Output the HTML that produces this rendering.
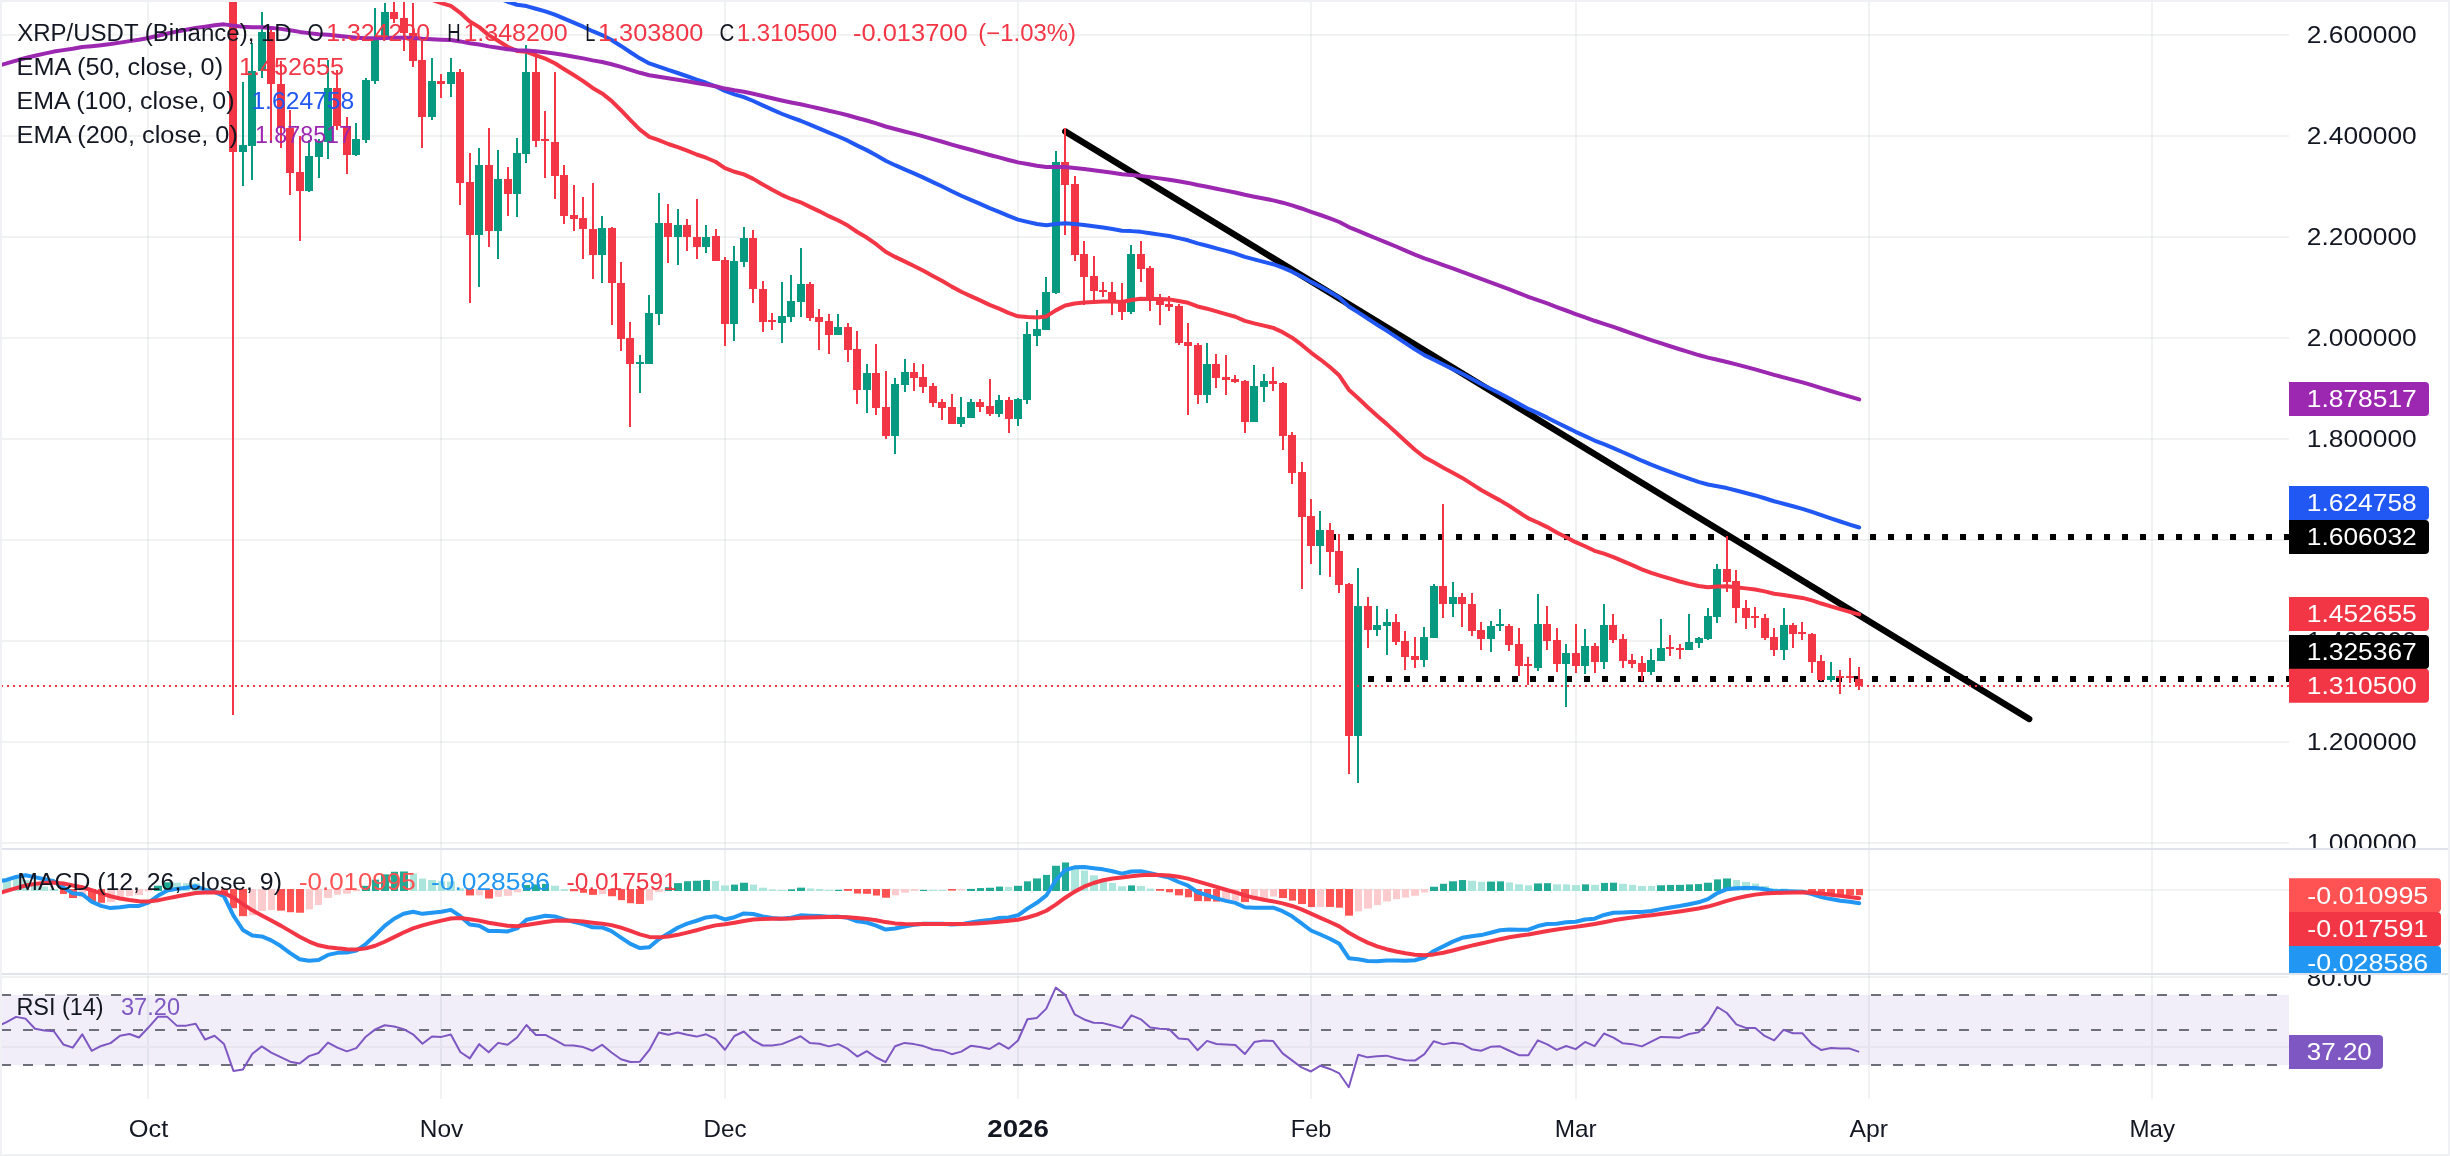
<!DOCTYPE html><html><head><meta charset="utf-8"><title>XRP/USDT</title><style>html,body{margin:0;padding:0;background:#fff;width:2450px;height:1156px;overflow:hidden}</style></head><body><svg width="2450" height="1156" viewBox="0 0 2450 1156" style="display:block;position:absolute;left:0;top:0">
<defs><clipPath id="cm"><rect x="0" y="0" width="2289" height="848"/></clipPath><clipPath id="cd"><rect x="0" y="850" width="2289" height="123"/></clipPath><clipPath id="cr"><rect x="0" y="975" width="2289" height="125"/></clipPath><clipPath id="am"><rect x="2289" y="0" width="200" height="848"/></clipPath><clipPath id="ad"><rect x="2289" y="850" width="200" height="123"/></clipPath><clipPath id="ar"><rect x="2289" y="975" width="200" height="125"/></clipPath></defs>
<rect width="2450" height="1156" fill="#fff"/>
<rect x="0" y="995" width="2289" height="70" fill="#f1eef9"/>
<rect x="147" y="0" width="2" height="1099" fill="rgba(36,56,56,0.062)"/>
<rect x="440" y="0" width="2" height="1099" fill="rgba(36,56,56,0.062)"/>
<rect x="724" y="0" width="2" height="1099" fill="rgba(36,56,56,0.062)"/>
<rect x="1017" y="0" width="2" height="1099" fill="rgba(36,56,56,0.062)"/>
<rect x="1310" y="0" width="2" height="1099" fill="rgba(36,56,56,0.062)"/>
<rect x="1575" y="0" width="2" height="1099" fill="rgba(36,56,56,0.062)"/>
<rect x="1868" y="0" width="2" height="1099" fill="rgba(36,56,56,0.062)"/>
<rect x="2151" y="0" width="2" height="1099" fill="rgba(36,56,56,0.062)"/>
<g clip-path="url(#cm)"><rect x="0" y="34" width="2289" height="2" fill="rgba(36,56,56,0.062)"/><rect x="0" y="135" width="2289" height="2" fill="rgba(36,56,56,0.062)"/><rect x="0" y="236" width="2289" height="2" fill="rgba(36,56,56,0.062)"/><rect x="0" y="337" width="2289" height="2" fill="rgba(36,56,56,0.062)"/><rect x="0" y="438" width="2289" height="2" fill="rgba(36,56,56,0.062)"/><rect x="0" y="539" width="2289" height="2" fill="rgba(36,56,56,0.062)"/><rect x="0" y="640" width="2289" height="2" fill="rgba(36,56,56,0.062)"/><rect x="0" y="741" width="2289" height="2" fill="rgba(36,56,56,0.062)"/><rect x="0" y="842" width="2289" height="2" fill="rgba(36,56,56,0.062)"/><rect x="0" y="943" width="2289" height="2" fill="rgba(36,56,56,0.062)"/></g>
<rect x="0" y="889" width="2289" height="2" fill="rgba(36,56,56,0.062)"/>
<rect x="0" y="976" width="2289" height="2" fill="rgba(36,56,56,0.062)"/>
<rect x="0" y="1046" width="2289" height="2" fill="#e8e5ef"/>
<rect x="0" y="848" width="2450" height="2" fill="#e0e3eb"/>
<rect x="0" y="973" width="2450" height="2" fill="#e0e3eb"/>
<g clip-path="url(#cm)">
<line x1="1330" y1="537" x2="2289" y2="537" stroke="#000" stroke-width="6" stroke-dasharray="6 12"/>
<line x1="1368" y1="679" x2="2289" y2="679" stroke="#000" stroke-width="6" stroke-dasharray="6 12"/>
<line x1="1065.3" y1="131.4" x2="2029.2" y2="719" stroke="#000" stroke-width="6.4" stroke-linecap="round"/>
<g fill="#089981"><rect x="239" y="145" width="8" height="7"/><rect x="242" y="82" width="2" height="104"/><rect x="248" y="71" width="8" height="75"/><rect x="251" y="43" width="2" height="137"/><rect x="258" y="32" width="8" height="39"/><rect x="261" y="12" width="2" height="66"/><rect x="305" y="156" width="8" height="35"/><rect x="308" y="140" width="2" height="52"/><rect x="315" y="141" width="8" height="16"/><rect x="318" y="139" width="2" height="39"/><rect x="324" y="88" width="8" height="54"/><rect x="327" y="60" width="2" height="99"/><rect x="352" y="139" width="8" height="16"/><rect x="355" y="123" width="2" height="33"/><rect x="362" y="80" width="8" height="60"/><rect x="365" y="78" width="2" height="65"/><rect x="371" y="38" width="8" height="43"/><rect x="374" y="8" width="2" height="76"/><rect x="381" y="12" width="8" height="26"/><rect x="384" y="3" width="2" height="35"/><rect x="428" y="81" width="8" height="36"/><rect x="431" y="58" width="2" height="62"/><rect x="447" y="72" width="8" height="12"/><rect x="450" y="58" width="2" height="39"/><rect x="475" y="165" width="8" height="70"/><rect x="478" y="148" width="2" height="139"/><rect x="494" y="179" width="8" height="52"/><rect x="497" y="150" width="2" height="109"/><rect x="513" y="153" width="8" height="41"/><rect x="516" y="138" width="2" height="79"/><rect x="522" y="72" width="8" height="82"/><rect x="525" y="45" width="2" height="118"/><rect x="598" y="228" width="8" height="27"/><rect x="601" y="216" width="2" height="67"/><rect x="636" y="362" width="8" height="2"/><rect x="639" y="355" width="2" height="38"/><rect x="645" y="313" width="8" height="51"/><rect x="648" y="295" width="2" height="69"/><rect x="655" y="223" width="8" height="91"/><rect x="658" y="193" width="2" height="132"/><rect x="674" y="225" width="8" height="12"/><rect x="677" y="209" width="2" height="56"/><rect x="702" y="237" width="8" height="10"/><rect x="705" y="225" width="2" height="28"/><rect x="730" y="261" width="8" height="63"/><rect x="733" y="246" width="2" height="95"/><rect x="740" y="238" width="8" height="24"/><rect x="743" y="227" width="2" height="40"/><rect x="778" y="316" width="8" height="7"/><rect x="781" y="282" width="2" height="61"/><rect x="787" y="301" width="8" height="16"/><rect x="790" y="275" width="2" height="47"/><rect x="797" y="284" width="8" height="18"/><rect x="800" y="248" width="2" height="69"/><rect x="834" y="327" width="8" height="8"/><rect x="837" y="314" width="2" height="21"/><rect x="863" y="373" width="8" height="17"/><rect x="866" y="364" width="2" height="49"/><rect x="891" y="384" width="8" height="52"/><rect x="894" y="378" width="2" height="76"/><rect x="901" y="372" width="8" height="13"/><rect x="904" y="359" width="2" height="33"/><rect x="957" y="417" width="8" height="7"/><rect x="960" y="397" width="2" height="30"/><rect x="967" y="402" width="8" height="16"/><rect x="970" y="399" width="2" height="19"/><rect x="995" y="400" width="8" height="14"/><rect x="998" y="395" width="2" height="22"/><rect x="1014" y="399" width="8" height="20"/><rect x="1017" y="398" width="2" height="28"/><rect x="1023" y="334" width="8" height="66"/><rect x="1026" y="322" width="2" height="82"/><rect x="1033" y="329" width="8" height="7"/><rect x="1036" y="310" width="2" height="36"/><rect x="1042" y="292" width="8" height="38"/><rect x="1045" y="277" width="2" height="53"/><rect x="1052" y="162" width="8" height="131"/><rect x="1055" y="151" width="2" height="143"/><rect x="1127" y="254" width="8" height="58"/><rect x="1130" y="245" width="2" height="69"/><rect x="1203" y="364" width="8" height="31"/><rect x="1206" y="343" width="2" height="60"/><rect x="1250" y="386" width="8" height="36"/><rect x="1253" y="365" width="2" height="57"/><rect x="1260" y="381" width="8" height="6"/><rect x="1263" y="374" width="2" height="28"/><rect x="1316" y="530" width="8" height="16"/><rect x="1319" y="511" width="2" height="64"/><rect x="1354" y="606" width="8" height="130"/><rect x="1357" y="568" width="2" height="215"/><rect x="1373" y="625" width="8" height="5"/><rect x="1376" y="606" width="2" height="30"/><rect x="1383" y="622" width="8" height="4"/><rect x="1386" y="609" width="2" height="46"/><rect x="1420" y="637" width="8" height="23"/><rect x="1423" y="627" width="2" height="40"/><rect x="1430" y="586" width="8" height="52"/><rect x="1433" y="584" width="2" height="54"/><rect x="1449" y="597" width="8" height="7"/><rect x="1452" y="582" width="2" height="35"/><rect x="1487" y="626" width="8" height="13"/><rect x="1490" y="621" width="2" height="31"/><rect x="1496" y="624" width="8" height="2"/><rect x="1499" y="609" width="2" height="22"/><rect x="1534" y="624" width="8" height="44"/><rect x="1537" y="594" width="2" height="77"/><rect x="1562" y="653" width="8" height="11"/><rect x="1565" y="644" width="2" height="63"/><rect x="1581" y="646" width="8" height="20"/><rect x="1584" y="629" width="2" height="45"/><rect x="1600" y="625" width="8" height="37"/><rect x="1603" y="604" width="2" height="65"/><rect x="1647" y="660" width="8" height="12"/><rect x="1650" y="649" width="2" height="26"/><rect x="1657" y="648" width="8" height="13"/><rect x="1660" y="619" width="2" height="42"/><rect x="1685" y="642" width="8" height="8"/><rect x="1688" y="614" width="2" height="36"/><rect x="1695" y="638" width="8" height="5"/><rect x="1698" y="637" width="2" height="11"/><rect x="1704" y="616" width="8" height="23"/><rect x="1707" y="608" width="2" height="32"/><rect x="1713" y="569" width="8" height="48"/><rect x="1716" y="564" width="2" height="59"/><rect x="1780" y="625" width="8" height="25"/><rect x="1783" y="608" width="2" height="52"/><rect x="1827" y="676" width="8" height="4"/><rect x="1830" y="662" width="2" height="20"/></g>
<g fill="#f23645"><rect x="229" y="-20" width="8" height="172"/><rect x="232" y="-20" width="2" height="735"/><rect x="267" y="32" width="8" height="52"/><rect x="270" y="30" width="2" height="112"/><rect x="277" y="84" width="8" height="44"/><rect x="280" y="61" width="2" height="87"/><rect x="286" y="128" width="8" height="45"/><rect x="289" y="110" width="2" height="85"/><rect x="296" y="172" width="8" height="19"/><rect x="299" y="136" width="2" height="105"/><rect x="333" y="88" width="8" height="38"/><rect x="336" y="70" width="2" height="60"/><rect x="343" y="126" width="8" height="29"/><rect x="346" y="117" width="2" height="57"/><rect x="390" y="12" width="8" height="7"/><rect x="393" y="-5" width="2" height="28"/><rect x="400" y="18" width="8" height="15"/><rect x="403" y="-5" width="2" height="56"/><rect x="409" y="33" width="8" height="28"/><rect x="412" y="3" width="2" height="64"/><rect x="418" y="60" width="8" height="57"/><rect x="421" y="39" width="2" height="109"/><rect x="437" y="81" width="8" height="3"/><rect x="440" y="74" width="2" height="24"/><rect x="456" y="72" width="8" height="111"/><rect x="459" y="69" width="2" height="136"/><rect x="466" y="182" width="8" height="53"/><rect x="469" y="153" width="2" height="150"/><rect x="485" y="165" width="8" height="66"/><rect x="488" y="128" width="2" height="119"/><rect x="504" y="179" width="8" height="15"/><rect x="507" y="167" width="2" height="49"/><rect x="532" y="72" width="8" height="69"/><rect x="535" y="50" width="2" height="97"/><rect x="541" y="139" width="8" height="2"/><rect x="544" y="111" width="2" height="67"/><rect x="551" y="142" width="8" height="34"/><rect x="554" y="72" width="2" height="127"/><rect x="560" y="175" width="8" height="41"/><rect x="563" y="165" width="2" height="59"/><rect x="570" y="215" width="8" height="4"/><rect x="573" y="185" width="2" height="46"/><rect x="579" y="218" width="8" height="11"/><rect x="582" y="197" width="2" height="62"/><rect x="589" y="229" width="8" height="26"/><rect x="592" y="183" width="2" height="96"/><rect x="608" y="228" width="8" height="55"/><rect x="611" y="227" width="2" height="98"/><rect x="617" y="283" width="8" height="56"/><rect x="620" y="262" width="2" height="89"/><rect x="626" y="338" width="8" height="26"/><rect x="629" y="322" width="2" height="105"/><rect x="664" y="223" width="8" height="14"/><rect x="667" y="204" width="2" height="59"/><rect x="683" y="225" width="8" height="12"/><rect x="686" y="219" width="2" height="32"/><rect x="693" y="237" width="8" height="10"/><rect x="696" y="199" width="2" height="60"/><rect x="712" y="236" width="8" height="25"/><rect x="715" y="229" width="2" height="32"/><rect x="721" y="260" width="8" height="64"/><rect x="724" y="257" width="2" height="89"/><rect x="749" y="238" width="8" height="51"/><rect x="752" y="230" width="2" height="73"/><rect x="759" y="289" width="8" height="33"/><rect x="762" y="281" width="2" height="51"/><rect x="768" y="320" width="8" height="2"/><rect x="771" y="313" width="2" height="17"/><rect x="806" y="284" width="8" height="34"/><rect x="809" y="282" width="2" height="39"/><rect x="815" y="317" width="8" height="5"/><rect x="818" y="309" width="2" height="41"/><rect x="825" y="321" width="8" height="14"/><rect x="828" y="314" width="2" height="40"/><rect x="844" y="327" width="8" height="23"/><rect x="847" y="323" width="2" height="39"/><rect x="853" y="349" width="8" height="41"/><rect x="856" y="331" width="2" height="73"/><rect x="872" y="373" width="8" height="35"/><rect x="875" y="344" width="2" height="71"/><rect x="882" y="407" width="8" height="29"/><rect x="885" y="371" width="2" height="68"/><rect x="910" y="372" width="8" height="6"/><rect x="913" y="363" width="2" height="28"/><rect x="919" y="377" width="8" height="10"/><rect x="922" y="364" width="2" height="29"/><rect x="929" y="386" width="8" height="17"/><rect x="932" y="383" width="2" height="24"/><rect x="938" y="402" width="8" height="6"/><rect x="941" y="399" width="2" height="21"/><rect x="948" y="407" width="8" height="17"/><rect x="951" y="394" width="2" height="30"/><rect x="976" y="402" width="8" height="5"/><rect x="979" y="399" width="2" height="13"/><rect x="986" y="406" width="8" height="8"/><rect x="989" y="379" width="2" height="37"/><rect x="1005" y="400" width="8" height="19"/><rect x="1008" y="397" width="2" height="36"/><rect x="1061" y="162" width="8" height="23"/><rect x="1064" y="128" width="2" height="107"/><rect x="1071" y="184" width="8" height="71"/><rect x="1074" y="176" width="2" height="85"/><rect x="1080" y="254" width="8" height="23"/><rect x="1083" y="241" width="2" height="64"/><rect x="1090" y="276" width="8" height="15"/><rect x="1093" y="256" width="2" height="44"/><rect x="1099" y="290" width="8" height="2"/><rect x="1102" y="282" width="2" height="15"/><rect x="1108" y="292" width="8" height="10"/><rect x="1111" y="282" width="2" height="33"/><rect x="1118" y="300" width="8" height="12"/><rect x="1121" y="283" width="2" height="37"/><rect x="1137" y="254" width="8" height="15"/><rect x="1140" y="241" width="2" height="41"/><rect x="1146" y="268" width="8" height="32"/><rect x="1149" y="266" width="2" height="45"/><rect x="1156" y="299" width="8" height="6"/><rect x="1159" y="294" width="2" height="31"/><rect x="1165" y="304" width="8" height="3"/><rect x="1168" y="296" width="2" height="15"/><rect x="1175" y="306" width="8" height="37"/><rect x="1178" y="304" width="2" height="41"/><rect x="1184" y="342" width="8" height="4"/><rect x="1187" y="323" width="2" height="92"/><rect x="1194" y="345" width="8" height="50"/><rect x="1197" y="343" width="2" height="61"/><rect x="1212" y="364" width="8" height="14"/><rect x="1215" y="354" width="2" height="34"/><rect x="1222" y="377" width="8" height="3"/><rect x="1225" y="355" width="2" height="40"/><rect x="1231" y="379" width="8" height="3"/><rect x="1234" y="375" width="2" height="8"/><rect x="1241" y="381" width="8" height="41"/><rect x="1244" y="380" width="2" height="53"/><rect x="1269" y="381" width="8" height="3"/><rect x="1272" y="367" width="2" height="24"/><rect x="1279" y="383" width="8" height="53"/><rect x="1282" y="382" width="2" height="68"/><rect x="1288" y="435" width="8" height="38"/><rect x="1291" y="432" width="2" height="52"/><rect x="1298" y="472" width="8" height="45"/><rect x="1301" y="462" width="2" height="127"/><rect x="1307" y="516" width="8" height="30"/><rect x="1310" y="499" width="2" height="65"/><rect x="1326" y="530" width="8" height="22"/><rect x="1329" y="523" width="2" height="54"/><rect x="1335" y="551" width="8" height="34"/><rect x="1338" y="534" width="2" height="59"/><rect x="1345" y="584" width="8" height="152"/><rect x="1348" y="583" width="2" height="191"/><rect x="1364" y="606" width="8" height="24"/><rect x="1367" y="597" width="2" height="51"/><rect x="1392" y="622" width="8" height="20"/><rect x="1395" y="614" width="2" height="31"/><rect x="1401" y="641" width="8" height="16"/><rect x="1404" y="631" width="2" height="39"/><rect x="1411" y="656" width="8" height="4"/><rect x="1414" y="637" width="2" height="31"/><rect x="1439" y="586" width="8" height="18"/><rect x="1442" y="504" width="2" height="114"/><rect x="1458" y="597" width="8" height="7"/><rect x="1461" y="593" width="2" height="34"/><rect x="1468" y="604" width="8" height="27"/><rect x="1471" y="593" width="2" height="43"/><rect x="1477" y="630" width="8" height="9"/><rect x="1480" y="622" width="2" height="28"/><rect x="1505" y="626" width="8" height="19"/><rect x="1508" y="624" width="2" height="27"/><rect x="1515" y="644" width="8" height="22"/><rect x="1518" y="628" width="2" height="48"/><rect x="1524" y="664" width="8" height="2"/><rect x="1527" y="657" width="2" height="28"/><rect x="1543" y="624" width="8" height="17"/><rect x="1546" y="606" width="2" height="44"/><rect x="1553" y="640" width="8" height="24"/><rect x="1556" y="628" width="2" height="44"/><rect x="1572" y="653" width="8" height="13"/><rect x="1575" y="624" width="2" height="49"/><rect x="1591" y="646" width="8" height="16"/><rect x="1594" y="643" width="2" height="30"/><rect x="1609" y="625" width="8" height="15"/><rect x="1612" y="614" width="2" height="29"/><rect x="1619" y="639" width="8" height="22"/><rect x="1622" y="634" width="2" height="34"/><rect x="1628" y="660" width="8" height="4"/><rect x="1631" y="654" width="2" height="14"/><rect x="1638" y="663" width="8" height="9"/><rect x="1641" y="656" width="2" height="25"/><rect x="1666" y="647" width="8" height="2"/><rect x="1669" y="635" width="2" height="21"/><rect x="1676" y="648" width="8" height="2"/><rect x="1679" y="644" width="2" height="15"/><rect x="1723" y="569" width="8" height="13"/><rect x="1726" y="536" width="2" height="56"/><rect x="1732" y="581" width="8" height="27"/><rect x="1735" y="570" width="2" height="53"/><rect x="1742" y="608" width="8" height="10"/><rect x="1745" y="600" width="2" height="29"/><rect x="1751" y="616" width="8" height="2"/><rect x="1754" y="607" width="2" height="21"/><rect x="1761" y="618" width="8" height="20"/><rect x="1764" y="614" width="2" height="26"/><rect x="1770" y="637" width="8" height="13"/><rect x="1773" y="628" width="2" height="28"/><rect x="1789" y="625" width="8" height="9"/><rect x="1792" y="623" width="2" height="25"/><rect x="1798" y="632" width="8" height="2"/><rect x="1801" y="622" width="2" height="18"/><rect x="1808" y="634" width="8" height="28"/><rect x="1811" y="633" width="2" height="40"/><rect x="1817" y="661" width="8" height="19"/><rect x="1820" y="655" width="2" height="26"/><rect x="1836" y="676" width="8" height="2"/><rect x="1839" y="670" width="2" height="24"/><rect x="1846" y="676" width="8" height="2"/><rect x="1849" y="658" width="2" height="25"/><rect x="1855" y="679" width="8" height="7"/><rect x="1858" y="667" width="2" height="23"/></g>
<path d="M-2.85 -146.84 L6.6 -148.41 L16.05 -150.98 L25.51 -153.19 L34.96 -153.68 L44.41 -153.86 L53.86 -153.92 L63.31 -151.61 L72.77 -148.74 L82.22 -147.99 L91.67 -143.62 L101.12 -140.24 L110.57 -137.45 L120.03 -136.02 L129.48 -134.95 L138.93 -133.26 L148.38 -133.35 L157.83 -135.61 L167.29 -137.79 L176.74 -138.45 L186.19 -139.09 L195.64 -140.04 L205.09 -138.24 L214.55 -137.11 L224 -134.41 L233.45 -123.19 L242.9 -112.66 L252.35 -105.44 L261.81 -100.05 L271.26 -92.82 L280.71 -84.18 L290.16 -74.11 L299.61 -63.71 L309.07 -55.09 L318.52 -47.39 L327.97 -42.08 L337.42 -35.5 L346.87 -28.03 L356.33 -21.47 L365.78 -17.48 L375.23 -15.32 L384.68 -14.24 L394.13 -12.95 L403.59 -11.16 L413.04 -8.33 L422.49 -3.42 L431.94 -0.1 L441.39 3.19 L450.85 5.9 L460.3 12.83 L469.75 21.53 L479.2 27.15 L488.65 35.13 L498.11 40.77 L507.56 46.77 L517.01 50.93 L526.46 51.77 L535.91 55.27 L545.37 58.63 L554.82 63.21 L564.27 69.21 L573.72 75.06 L583.17 81.12 L592.63 87.95 L602.08 93.44 L611.53 100.89 L620.98 110.22 L630.43 120.15 L639.89 129.64 L649.34 136.83 L658.79 140.21 L668.24 143.99 L677.69 147.16 L687.15 150.7 L696.6 154.49 L706.05 157.73 L715.5 161.76 L724.95 168.11 L734.41 171.75 L743.86 174.35 L753.31 178.86 L762.76 184.46 L772.21 189.85 L781.67 194.8 L791.12 198.97 L800.57 202.3 L810.02 206.84 L819.47 211.34 L828.93 216.17 L838.38 220.52 L847.83 225.58 L857.28 232.01 L866.73 237.54 L876.19 244.21 L885.64 251.72 L895.09 256.9 L904.54 261.42 L913.99 265.97 L923.45 270.7 L932.9 275.88 L942.35 281.04 L951.8 286.63 L961.25 291.74 L970.71 296.07 L980.16 300.4 L989.61 304.84 L999.06 308.57 L1008.51 312.89 L1017.97 316.27 L1027.42 316.96 L1036.87 317.43 L1046.32 316.44 L1055.77 310.38 L1065.23 305.45 L1074.68 303.46 L1084.13 302.41 L1093.58 301.96 L1103.03 301.57 L1112.49 301.57 L1121.94 301.96 L1131.39 300.08 L1140.84 298.85 L1150.29 298.88 L1159.75 299.1 L1169.2 299.4 L1178.65 301.09 L1188.1 302.84 L1197.55 306.43 L1207.01 308.69 L1216.46 311.39 L1225.91 314.07 L1235.36 316.73 L1244.81 320.84 L1254.27 323.4 L1263.72 325.66 L1273.17 327.93 L1282.62 332.15 L1292.07 337.66 L1301.53 344.68 L1310.98 352.56 L1320.43 359.52 L1329.88 367.05 L1339.33 375.58 L1348.79 389.71 L1358.24 398.19 L1367.69 407.26 L1377.14 415.8 L1386.59 423.89 L1396.05 432.43 L1405.5 441.22 L1414.95 449.78 L1424.4 457.12 L1433.85 462.18 L1443.31 467.72 L1452.76 472.79 L1462.21 477.92 L1471.66 483.91 L1481.11 489.98 L1490.57 495.31 L1500.02 500.37 L1509.47 506.03 L1518.92 512.29 L1528.37 518.31 L1537.83 522.46 L1547.28 527.09 L1556.73 532.45 L1566.18 537.17 L1575.63 542.21 L1585.09 546.28 L1594.54 550.8 L1603.99 553.71 L1613.44 557.08 L1622.89 561.14 L1632.35 565.16 L1641.8 569.33 L1651.25 572.89 L1660.7 575.83 L1670.15 578.7 L1679.61 581.5 L1689.06 583.87 L1698.51 586.01 L1707.96 587.19 L1717.41 586.48 L1726.87 586.3 L1736.32 587.17 L1745.77 588.36 L1755.22 589.52 L1764.67 591.41 L1774.13 593.7 L1783.58 594.93 L1793.03 596.45 L1802.48 597.91 L1811.93 600.42 L1821.39 603.53 L1830.84 606.36 L1840.29 609.16 L1849.74 611.84 L1859.19 614.41" fill="none" stroke="#f23645" stroke-width="4" stroke-linejoin="round" stroke-linecap="round"/>
<path d="M-2.85 -77.22 L6.6 -79.39 L16.05 -82.06 L25.51 -84.53 L34.96 -86.14 L44.41 -87.57 L53.86 -88.91 L63.31 -89.04 L72.77 -88.82 L82.22 -89.63 L91.67 -88.58 L101.12 -87.96 L110.57 -87.59 L120.03 -87.85 L129.48 -88.27 L138.93 -88.34 L148.38 -89.28 L157.83 -91.29 L167.29 -93.27 L176.74 -94.48 L186.19 -95.68 L195.64 -97.01 L205.09 -96.96 L214.55 -97.21 L224 -96.63 L233.45 -91.71 L242.9 -87.02 L252.35 -83.89 L261.81 -81.59 L271.26 -78.3 L280.71 -74.23 L290.16 -69.34 L299.61 -64.18 L309.07 -59.82 L318.52 -55.84 L327.97 -52.99 L337.42 -49.45 L346.87 -45.4 L356.33 -41.75 L365.78 -39.33 L375.23 -37.81 L384.68 -36.82 L394.13 -35.72 L403.59 -34.36 L413.04 -32.48 L422.49 -29.52 L431.94 -27.33 L441.39 -25.13 L450.85 -23.19 L460.3 -19.12 L469.75 -14.1 L479.2 -10.55 L488.65 -5.77 L498.11 -2.12 L507.56 1.76 L517.01 4.76 L526.46 6.09 L535.91 8.77 L545.37 11.38 L554.82 14.63 L564.27 18.62 L573.72 22.58 L583.17 26.68 L592.63 31.2 L602.08 35.1 L611.53 40.02 L620.98 45.93 L630.43 52.22 L639.89 58.36 L649.34 63.4 L658.79 66.56 L668.24 69.93 L677.69 73 L687.15 76.25 L696.6 79.64 L706.05 82.76 L715.5 86.28 L724.95 90.98 L734.41 94.34 L743.86 97.19 L753.31 101 L762.76 105.36 L772.21 109.65 L781.67 113.74 L791.12 117.45 L800.57 120.75 L810.02 124.65 L819.47 128.55 L828.93 132.63 L838.38 136.48 L847.83 140.7 L857.28 145.63 L866.73 150.13 L876.19 155.23 L885.64 160.78 L895.09 165.2 L904.54 169.3 L913.99 173.42 L923.45 177.64 L932.9 182.1 L942.35 186.56 L951.8 191.26 L961.25 195.73 L970.71 199.81 L980.16 203.91 L989.61 208.06 L999.06 211.86 L1008.51 215.95 L1017.97 219.58 L1027.42 221.84 L1036.87 223.97 L1046.32 225.31 L1055.77 224.06 L1065.23 223.28 L1074.68 223.9 L1084.13 224.95 L1093.58 226.25 L1103.03 227.56 L1112.49 229.02 L1121.94 230.66 L1131.39 231.12 L1140.84 231.86 L1150.29 233.2 L1159.75 234.62 L1169.2 236.04 L1178.65 238.15 L1188.1 240.28 L1197.55 243.34 L1207.01 245.73 L1216.46 248.34 L1225.91 250.94 L1235.36 253.53 L1244.81 256.86 L1254.27 259.42 L1263.72 261.82 L1273.17 264.24 L1282.62 267.63 L1292.07 271.69 L1301.53 276.54 L1310.98 281.87 L1320.43 286.78 L1329.88 292.02 L1339.33 297.82 L1348.79 306.49 L1358.24 312.42 L1367.69 318.7 L1377.14 324.77 L1386.59 330.65 L1396.05 336.81 L1405.5 343.14 L1414.95 349.41 L1424.4 355.1 L1433.85 359.68 L1443.31 364.51 L1452.76 369.11 L1462.21 373.75 L1471.66 378.84 L1481.11 383.98 L1490.57 388.78 L1500.02 393.44 L1509.47 398.41 L1518.92 403.71 L1528.37 408.9 L1537.83 413.16 L1547.28 417.66 L1556.73 422.53 L1566.18 427.1 L1575.63 431.82 L1585.09 436.06 L1594.54 440.53 L1603.99 444.18 L1613.44 448.05 L1622.89 452.26 L1632.35 456.44 L1641.8 460.7 L1651.25 464.65 L1660.7 468.28 L1670.15 471.86 L1679.61 475.39 L1689.06 478.69 L1698.51 481.85 L1707.96 484.51 L1717.41 486.18 L1726.87 488.08 L1736.32 490.46 L1745.77 492.98 L1755.22 495.45 L1764.67 498.27 L1774.13 501.27 L1783.58 503.72 L1793.03 506.29 L1802.48 508.82 L1811.93 511.85 L1821.39 515.18 L1830.84 518.35 L1840.29 521.51 L1849.74 524.6 L1859.19 527.5" fill="none" stroke="#2157f3" stroke-width="4" stroke-linejoin="round" stroke-linecap="round"/>
<path d="M-2.85 65.96 L6.6 63.44 L16.05 60.68 L25.51 58.02 L34.96 55.79 L44.41 53.66 L53.86 51.58 L63.31 50.12 L72.77 48.84 L82.22 47.07 L91.67 46.23 L101.12 45.2 L110.57 44.07 L120.03 42.62 L129.48 41.12 L138.93 39.79 L148.38 38.05 L157.83 35.77 L167.29 33.51 L176.74 31.64 L186.19 29.78 L195.64 27.86 L205.09 26.65 L214.55 25.29 L224 24.36 L233.45 25.63 L242.9 26.82 L252.35 27.26 L261.81 27.31 L271.26 27.88 L280.71 28.87 L290.16 30.3 L299.61 31.9 L309.07 33.14 L318.52 34.21 L327.97 34.75 L337.42 35.65 L346.87 36.84 L356.33 37.86 L365.78 38.28 L375.23 38.27 L384.68 38.02 L394.13 37.82 L403.59 37.77 L413.04 38 L422.49 38.79 L431.94 39.21 L441.39 39.65 L450.85 39.98 L460.3 41.4 L469.75 43.32 L479.2 44.53 L488.65 46.38 L498.11 47.7 L507.56 49.15 L517.01 50.19 L526.46 50.41 L535.91 51.31 L545.37 52.2 L554.82 53.43 L564.27 55.05 L573.72 56.67 L583.17 58.39 L592.63 60.35 L602.08 62.02 L611.53 64.22 L620.98 66.95 L630.43 69.9 L639.89 72.81 L649.34 75.2 L658.79 76.67 L668.24 78.26 L677.69 79.72 L687.15 81.29 L696.6 82.94 L706.05 84.48 L715.5 86.23 L724.95 88.59 L734.41 90.31 L743.86 91.78 L753.31 93.74 L762.76 96.01 L772.21 98.26 L781.67 100.43 L791.12 102.42 L800.57 104.23 L810.02 106.36 L819.47 108.5 L828.93 110.75 L838.38 112.9 L847.83 115.25 L857.28 117.98 L866.73 120.52 L876.19 123.38 L885.64 126.48 L895.09 129.05 L904.54 131.46 L913.99 133.91 L923.45 136.43 L932.9 139.08 L942.35 141.75 L951.8 144.55 L961.25 147.26 L970.71 149.8 L980.16 152.35 L989.61 154.95 L999.06 157.39 L1008.51 159.99 L1017.97 162.37 L1027.42 164.08 L1036.87 165.72 L1046.32 166.97 L1055.77 166.93 L1065.23 167.1 L1074.68 167.97 L1084.13 169.06 L1093.58 170.27 L1103.03 171.48 L1112.49 172.77 L1121.94 174.15 L1131.39 174.95 L1140.84 175.88 L1150.29 177.11 L1159.75 178.38 L1169.2 179.66 L1178.65 181.28 L1188.1 182.91 L1197.55 185.02 L1207.01 186.8 L1216.46 188.7 L1225.91 190.6 L1235.36 192.5 L1244.81 194.78 L1254.27 196.68 L1263.72 198.52 L1273.17 200.36 L1282.62 202.7 L1292.07 205.39 L1301.53 208.48 L1310.98 211.84 L1320.43 215 L1329.88 218.35 L1339.33 222 L1348.79 227.11 L1358.24 230.88 L1367.69 234.85 L1377.14 238.73 L1386.59 242.54 L1396.05 246.51 L1405.5 250.59 L1414.95 254.66 L1424.4 258.47 L1433.85 261.73 L1443.31 265.13 L1452.76 268.43 L1462.21 271.77 L1471.66 275.34 L1481.11 278.95 L1490.57 282.4 L1500.02 285.81 L1509.47 289.38 L1518.92 293.12 L1528.37 296.83 L1537.83 300.09 L1547.28 303.47 L1556.73 307.06 L1566.18 310.5 L1575.63 314.03 L1585.09 317.34 L1594.54 320.76 L1603.99 323.79 L1613.44 326.93 L1622.89 330.25 L1632.35 333.57 L1641.8 336.93 L1651.25 340.15 L1660.7 343.21 L1670.15 346.25 L1679.61 349.27 L1689.06 352.19 L1698.51 355.04 L1707.96 357.63 L1717.41 359.74 L1726.87 361.95 L1736.32 364.4 L1745.77 366.92 L1755.22 369.42 L1764.67 372.09 L1774.13 374.85 L1783.58 377.34 L1793.03 379.89 L1802.48 382.42 L1811.93 385.2 L1821.39 388.13 L1830.84 390.99 L1840.29 393.84 L1849.74 396.66 L1859.19 399.35" fill="none" stroke="#9c27b0" stroke-width="4" stroke-linejoin="round" stroke-linecap="round"/>
<line x1="-5" y1="686" x2="2289" y2="686" stroke="#f23645" stroke-width="2" stroke-dasharray="2 4"/>
</g>
<g clip-path="url(#cd)">
<g fill="#22ab94"><rect x="154" y="885.71" width="8" height="5.29"/><rect x="164" y="882.31" width="7" height="8.69"/><rect x="362" y="885.85" width="8" height="5.15"/><rect x="372" y="879.67" width="7" height="11.33"/><rect x="381" y="874.37" width="8" height="16.63"/><rect x="391" y="871.77" width="7" height="19.23"/><rect x="400" y="871.5" width="8" height="19.5"/><rect x="523" y="885.03" width="7" height="5.97"/><rect x="532" y="884.36" width="8" height="6.64"/><rect x="542" y="883.94" width="7" height="7.06"/><rect x="665" y="887.15" width="7" height="3.85"/><rect x="674" y="883.1" width="8" height="7.9"/><rect x="684" y="881.24" width="7" height="9.76"/><rect x="693" y="880.73" width="8" height="10.27"/><rect x="703" y="879.95" width="7" height="11.05"/><rect x="731" y="884.61" width="7" height="6.39"/><rect x="740" y="882.73" width="8" height="8.27"/><rect x="788" y="889.34" width="7" height="1.66"/><rect x="797" y="887.66" width="8" height="3.34"/><rect x="835" y="889.83" width="7" height="1.17"/><rect x="920" y="889.87" width="7" height="1.13"/><rect x="967" y="888.89" width="8" height="2.11"/><rect x="977" y="888.06" width="7" height="2.94"/><rect x="986" y="887.75" width="8" height="3.25"/><rect x="996" y="886.61" width="7" height="4.39"/><rect x="1014" y="885.79" width="8" height="5.21"/><rect x="1024" y="881.32" width="7" height="9.68"/><rect x="1033" y="878.44" width="8" height="12.56"/><rect x="1043" y="874.89" width="7" height="16.11"/><rect x="1052" y="865.76" width="8" height="25.24"/><rect x="1062" y="862.49" width="7" height="28.51"/><rect x="1128" y="885.41" width="7" height="5.59"/><rect x="1430" y="886.75" width="8" height="4.25"/><rect x="1440" y="883.77" width="7" height="7.23"/><rect x="1449" y="881.28" width="8" height="9.72"/><rect x="1459" y="880.03" width="7" height="10.97"/><rect x="1487" y="881.56" width="8" height="9.44"/><rect x="1497" y="881.34" width="7" height="9.66"/><rect x="1534" y="883.42" width="8" height="7.58"/><rect x="1544" y="883.16" width="7" height="7.84"/><rect x="1582" y="884.37" width="7" height="6.63"/><rect x="1601" y="882.91" width="7" height="8.09"/><rect x="1610" y="882.67" width="7" height="8.33"/><rect x="1657" y="885.27" width="8" height="5.73"/><rect x="1667" y="884.93" width="7" height="6.07"/><rect x="1676" y="884.85" width="8" height="6.15"/><rect x="1686" y="884.42" width="7" height="6.58"/><rect x="1695" y="884.07" width="7" height="6.93"/><rect x="1704" y="882.71" width="8" height="8.29"/><rect x="1714" y="879.39" width="7" height="11.61"/><rect x="1723" y="878.48" width="8" height="12.52"/></g>
<g fill="#ace5dc"><rect x="-6" y="877.89" width="7" height="13.11"/><rect x="3" y="879.22" width="8" height="11.78"/><rect x="13" y="879.04" width="7" height="11.96"/><rect x="22" y="879.93" width="7" height="11.07"/><rect x="31" y="883.47" width="8" height="7.53"/><rect x="41" y="886.53" width="7" height="4.47"/><rect x="50" y="888.88" width="8" height="2.12"/><rect x="173" y="882.62" width="8" height="8.38"/><rect x="183" y="883.15" width="7" height="7.85"/><rect x="192" y="883.32" width="8" height="7.68"/><rect x="202" y="887.75" width="7" height="3.25"/><rect x="211" y="889.77" width="8" height="1.23"/><rect x="410" y="873.55" width="7" height="17.45"/><rect x="419" y="878.6" width="7" height="12.4"/><rect x="428" y="879.99" width="8" height="11.01"/><rect x="438" y="881.25" width="7" height="9.75"/><rect x="447" y="881.57" width="8" height="9.43"/><rect x="457" y="888.34" width="7" height="2.66"/><rect x="551" y="885.72" width="8" height="5.28"/><rect x="561" y="889.14" width="7" height="1.86"/><rect x="712" y="881.02" width="7" height="9.98"/><rect x="721" y="885.49" width="8" height="5.51"/><rect x="750" y="884.63" width="7" height="6.37"/><rect x="759" y="887.71" width="8" height="3.29"/><rect x="769" y="889.53" width="7" height="1.47"/><rect x="778" y="890" width="8" height="1"/><rect x="807" y="888.46" width="7" height="2.54"/><rect x="816" y="889.01" width="7" height="1.99"/><rect x="825" y="889.93" width="8" height="1.07"/><rect x="929" y="889.91" width="8" height="1.09"/><rect x="939" y="889.92" width="7" height="1.08"/><rect x="1005" y="886.87" width="7" height="4.13"/><rect x="1071" y="865.89" width="8" height="25.11"/><rect x="1081" y="870.55" width="7" height="20.45"/><rect x="1090" y="875.35" width="8" height="15.65"/><rect x="1100" y="879.27" width="7" height="11.73"/><rect x="1109" y="882.94" width="7" height="8.06"/><rect x="1118" y="886.31" width="8" height="4.69"/><rect x="1137" y="886.07" width="8" height="4.93"/><rect x="1147" y="888.63" width="7" height="2.37"/><rect x="1468" y="880.81" width="8" height="10.19"/><rect x="1478" y="881.74" width="7" height="9.26"/><rect x="1506" y="882.39" width="7" height="8.61"/><rect x="1515" y="884.24" width="8" height="6.76"/><rect x="1525" y="885.32" width="7" height="5.68"/><rect x="1553" y="884.32" width="8" height="6.68"/><rect x="1563" y="884.39" width="7" height="6.61"/><rect x="1572" y="885.11" width="8" height="5.89"/><rect x="1591" y="884.79" width="8" height="6.21"/><rect x="1619" y="883.85" width="8" height="7.15"/><rect x="1629" y="884.84" width="7" height="6.16"/><rect x="1638" y="885.95" width="8" height="5.05"/><rect x="1648" y="885.96" width="7" height="5.04"/><rect x="1733" y="879.97" width="7" height="11.03"/><rect x="1742" y="881.89" width="8" height="9.11"/><rect x="1752" y="883.5" width="7" height="7.5"/><rect x="1761" y="885.96" width="8" height="5.04"/><rect x="1771" y="888.39" width="7" height="2.61"/><rect x="1780" y="888.56" width="8" height="2.44"/><rect x="1790" y="889.22" width="7" height="1.78"/><rect x="1799" y="889.67" width="7" height="1.33"/></g>
<g fill="#fccbcd"><rect x="79" y="889" width="7" height="8.19"/><rect x="107" y="889" width="8" height="13.05"/><rect x="117" y="889" width="7" height="10.08"/><rect x="126" y="889" width="7" height="7.22"/><rect x="135" y="889" width="8" height="6"/><rect x="145" y="889" width="7" height="2.36"/><rect x="249" y="889" width="7" height="26.33"/><rect x="258" y="889" width="8" height="22.05"/><rect x="268" y="889" width="7" height="21.06"/><rect x="306" y="889" width="7" height="20.42"/><rect x="315" y="889" width="7" height="16.02"/><rect x="324" y="889" width="8" height="8.91"/><rect x="334" y="889" width="7" height="5.7"/><rect x="343" y="889" width="8" height="4.61"/><rect x="353" y="889" width="7" height="2.31"/><rect x="476" y="889" width="7" height="6.32"/><rect x="495" y="889" width="7" height="7.77"/><rect x="504" y="889" width="8" height="6.88"/><rect x="514" y="889" width="7" height="3.35"/><rect x="599" y="889" width="7" height="5.05"/><rect x="646" y="889" width="7" height="11.49"/><rect x="655" y="889" width="8" height="3.14"/><rect x="892" y="889" width="7" height="6.38"/><rect x="901" y="889" width="8" height="3.66"/><rect x="911" y="889" width="7" height="1.84"/><rect x="958" y="889" width="7" height="1.26"/><rect x="1222" y="889" width="8" height="12.34"/><rect x="1232" y="889" width="7" height="11.74"/><rect x="1251" y="889" width="7" height="11.21"/><rect x="1260" y="889" width="8" height="9.14"/><rect x="1270" y="889" width="7" height="7.5"/><rect x="1317" y="889" width="7" height="17.89"/><rect x="1355" y="889" width="7" height="22.44"/><rect x="1364" y="889" width="8" height="19.6"/><rect x="1374" y="889" width="7" height="16.11"/><rect x="1383" y="889" width="8" height="12.46"/><rect x="1393" y="889" width="7" height="10.18"/><rect x="1402" y="889" width="7" height="8.59"/><rect x="1411" y="889" width="8" height="6.8"/><rect x="1421" y="889" width="7" height="3.49"/></g>
<g fill="#ff5252"><rect x="60" y="889" width="7" height="4.97"/><rect x="69" y="889" width="8" height="9"/><rect x="88" y="889" width="8" height="12.73"/><rect x="98" y="889" width="7" height="13.77"/><rect x="221" y="889" width="7" height="4.42"/><rect x="230" y="889" width="7" height="19.24"/><rect x="239" y="889" width="8" height="27.14"/><rect x="277" y="889" width="8" height="21.63"/><rect x="287" y="889" width="7" height="23.2"/><rect x="296" y="889" width="8" height="23.72"/><rect x="466" y="889" width="8" height="6.44"/><rect x="485" y="889" width="8" height="9.5"/><rect x="570" y="889" width="8" height="2.21"/><rect x="580" y="889" width="7" height="3.8"/><rect x="589" y="889" width="8" height="5.87"/><rect x="608" y="889" width="8" height="7.24"/><rect x="618" y="889" width="7" height="11.16"/><rect x="627" y="889" width="7" height="14.21"/><rect x="636" y="889" width="8" height="14.97"/><rect x="844" y="889" width="8" height="1.85"/><rect x="854" y="889" width="7" height="4.53"/><rect x="863" y="889" width="8" height="4.82"/><rect x="873" y="889" width="7" height="6.55"/><rect x="882" y="889" width="8" height="8.7"/><rect x="948" y="889" width="8" height="1.56"/><rect x="1156" y="889" width="8" height="1.75"/><rect x="1166" y="889" width="7" height="3.3"/><rect x="1175" y="889" width="8" height="6.38"/><rect x="1185" y="889" width="7" height="8.33"/><rect x="1194" y="889" width="8" height="12.13"/><rect x="1204" y="889" width="7" height="12.24"/><rect x="1213" y="889" width="7" height="12.58"/><rect x="1241" y="889" width="8" height="13.09"/><rect x="1279" y="889" width="8" height="9.04"/><rect x="1289" y="889" width="7" height="11.62"/><rect x="1298" y="889" width="8" height="15.09"/><rect x="1308" y="889" width="7" height="18.04"/><rect x="1326" y="889" width="8" height="17.92"/><rect x="1336" y="889" width="7" height="18.69"/><rect x="1345" y="889" width="8" height="26.67"/><rect x="1808" y="889" width="8" height="2.59"/><rect x="1818" y="889" width="7" height="4.74"/><rect x="1827" y="889" width="8" height="5.63"/><rect x="1837" y="889" width="7" height="6.02"/><rect x="1846" y="889" width="8" height="5.97"/><rect x="1856" y="889" width="7" height="6.24"/></g>
<path d="M-2.85 881.34 L6.6 879.92 L16.05 876.96 L25.51 875.28 L34.96 877.14 L44.41 879.29 L53.86 881.3 L63.31 887.34 L72.77 893.32 L82.22 894.26 L91.67 901.67 L101.12 905.85 L110.57 908.1 L120.03 907.35 L129.48 906 L138.93 905.98 L148.38 902.63 L157.83 895.85 L167.29 890.48 L176.74 888.89 L186.19 887.66 L195.64 886.11 L205.09 889.93 L214.55 891.84 L224 896.29 L233.45 915.62 L242.9 930.01 L252.35 935.48 L261.81 936.41 L271.26 940.39 L280.71 946.06 L290.16 953.14 L299.61 959.29 L309.07 960.79 L318.52 960.09 L327.97 954.91 L337.42 952.83 L346.87 952.59 L356.33 950.57 L365.78 944.02 L375.23 935.2 L384.68 925.94 L394.13 918.74 L403.59 913.79 L413.04 911.68 L422.49 913.83 L431.94 912.67 L441.39 911.69 L450.85 909.86 L460.3 916.17 L469.75 924.57 L479.2 925.74 L488.65 930.99 L498.11 930.9 L507.56 931.43 L517.01 928.44 L526.46 919.82 L535.91 917.7 L545.37 915.71 L554.82 916.38 L564.27 919.52 L573.72 921.84 L583.17 924.08 L592.63 927.33 L602.08 927.47 L611.53 931.16 L620.98 937.58 L630.43 943.88 L639.89 948.09 L649.34 947.18 L658.79 939.31 L668.24 933.56 L677.69 927.73 L687.15 923.63 L696.6 920.76 L706.05 917.41 L715.5 916.18 L724.95 919.48 L734.41 917.21 L743.86 913.45 L753.31 913.96 L762.76 916.42 L772.21 918.08 L781.67 918.63 L791.12 917.64 L800.57 915.33 L810.02 915.7 L819.47 915.95 L828.93 916.8 L838.38 916.61 L847.83 917.79 L857.28 921.3 L866.73 922.49 L876.19 925.56 L885.64 929.59 L895.09 928.56 L904.54 926.45 L913.99 924.79 L923.45 923.75 L932.9 923.71 L942.35 923.65 L951.8 924.39 L961.25 924.1 L970.71 922.4 L980.16 921.03 L989.61 920.11 L999.06 918.07 L1008.51 917.5 L1017.97 915.32 L1027.42 908.63 L1036.87 902.81 L1046.32 895.43 L1055.77 880.2 L1065.23 870 L1074.68 867.32 L1084.13 867.06 L1093.58 868.15 L1103.03 869.34 L1112.49 871.2 L1121.94 873.6 L1131.39 871.5 L1140.84 871.13 L1150.29 873.29 L1159.75 875.55 L1169.2 877.62 L1178.65 882 L1188.1 885.73 L1197.55 892.26 L1207.01 895.13 L1216.46 898.31 L1225.91 900.86 L1235.36 902.9 L1244.81 907.22 L1254.27 907.84 L1263.72 907.76 L1273.17 907.69 L1282.62 911.19 L1292.07 916.37 L1301.53 923.32 L1310.98 930.48 L1320.43 934.51 L1329.88 938.72 L1339.33 943.85 L1348.79 958.2 L1358.24 959.28 L1367.69 961.04 L1377.14 961.28 L1386.59 960.45 L1396.05 960.41 L1405.5 960.66 L1414.95 960.28 L1424.4 957.54 L1433.85 950.94 L1443.31 946.35 L1452.76 941.63 L1462.21 937.83 L1471.66 936.26 L1481.11 935.09 L1490.57 932.75 L1500.02 930.31 L1509.47 929.4 L1518.92 929.77 L1528.37 929.63 L1537.83 926.04 L1547.28 924.01 L1556.73 923.7 L1566.18 922.31 L1575.63 921.77 L1585.09 919.57 L1594.54 918.64 L1603.99 914.93 L1613.44 912.81 L1622.89 912.4 L1632.35 912.05 L1641.8 912.1 L1651.25 911.06 L1660.7 909.13 L1670.15 907.48 L1679.61 906.06 L1689.06 904.19 L1698.51 902.3 L1707.96 899.07 L1717.41 893.04 L1726.87 889.21 L1736.32 888.14 L1745.77 887.98 L1755.22 887.92 L1764.67 889.31 L1774.13 891.3 L1783.58 891.05 L1793.03 891.46 L1802.48 891.79 L1811.93 894.05 L1821.39 897.09 L1830.84 899.09 L1840.29 900.69 L1849.74 901.82 L1859.19 903.29" fill="none" stroke="#2196f3" stroke-width="4" stroke-linejoin="round" stroke-linecap="round"/>
<path d="M-2.85 893.65 L6.6 890.91 L16.05 888.12 L25.51 885.55 L34.96 883.87 L44.41 882.95 L53.86 882.62 L63.31 883.56 L72.77 885.52 L82.22 887.26 L91.67 890.15 L101.12 893.29 L110.57 896.25 L120.03 898.47 L129.48 899.97 L138.93 901.18 L148.38 901.47 L157.83 900.34 L167.29 898.37 L176.74 896.48 L186.19 894.71 L195.64 892.99 L205.09 892.38 L214.55 892.27 L224 893.08 L233.45 897.58 L242.9 904.07 L252.35 910.35 L261.81 915.56 L271.26 920.53 L280.71 925.63 L290.16 931.13 L299.61 936.76 L309.07 941.57 L318.52 945.27 L327.97 947.2 L337.42 948.33 L346.87 949.18 L356.33 949.46 L365.78 948.37 L375.23 945.74 L384.68 941.78 L394.13 937.17 L403.59 932.49 L413.04 928.33 L422.49 925.43 L431.94 922.88 L441.39 920.64 L450.85 918.48 L460.3 918.02 L469.75 919.33 L479.2 920.61 L488.65 922.69 L498.11 924.33 L507.56 925.75 L517.01 926.29 L526.46 924.99 L535.91 923.54 L545.37 921.97 L554.82 920.85 L564.27 920.59 L573.72 920.84 L583.17 921.49 L592.63 922.66 L602.08 923.62 L611.53 925.13 L620.98 927.62 L630.43 930.87 L639.89 934.31 L649.34 936.89 L658.79 937.37 L668.24 936.61 L677.69 934.83 L687.15 932.59 L696.6 930.23 L706.05 927.66 L715.5 925.37 L724.95 924.19 L734.41 922.79 L743.86 920.93 L753.31 919.53 L762.76 918.91 L772.21 918.74 L781.67 918.72 L791.12 918.51 L800.57 917.87 L810.02 917.44 L819.47 917.14 L828.93 917.07 L838.38 916.98 L847.83 917.14 L857.28 917.97 L866.73 918.88 L876.19 920.21 L885.64 922.09 L895.09 923.38 L904.54 924 L913.99 924.16 L923.45 924.08 L932.9 924 L942.35 923.93 L951.8 924.02 L961.25 924.04 L970.71 923.71 L980.16 923.17 L989.61 922.56 L999.06 921.66 L1008.51 920.83 L1017.97 919.73 L1027.42 917.51 L1036.87 914.57 L1046.32 910.74 L1055.77 904.63 L1065.23 897.71 L1074.68 891.63 L1084.13 886.72 L1093.58 883 L1103.03 880.27 L1112.49 878.46 L1121.94 877.48 L1131.39 876.29 L1140.84 875.26 L1150.29 874.86 L1159.75 875 L1169.2 875.52 L1178.65 876.82 L1188.1 878.6 L1197.55 881.33 L1207.01 884.09 L1216.46 886.94 L1225.91 889.72 L1235.36 892.36 L1244.81 895.33 L1254.27 897.83 L1263.72 899.82 L1273.17 901.39 L1282.62 903.35 L1292.07 905.96 L1301.53 909.43 L1310.98 913.64 L1320.43 917.81 L1329.88 921.99 L1339.33 926.37 L1348.79 932.73 L1358.24 938.04 L1367.69 942.64 L1377.14 946.37 L1386.59 949.19 L1396.05 951.43 L1405.5 953.28 L1414.95 954.68 L1424.4 955.25 L1433.85 954.39 L1443.31 952.78 L1452.76 950.55 L1462.21 948.01 L1471.66 945.66 L1481.11 943.54 L1490.57 941.38 L1500.02 939.17 L1509.47 937.22 L1518.92 935.73 L1528.37 934.51 L1537.83 932.81 L1547.28 931.05 L1556.73 929.58 L1566.18 928.13 L1575.63 926.86 L1585.09 925.4 L1594.54 924.05 L1603.99 922.22 L1613.44 920.34 L1622.89 918.75 L1632.35 917.41 L1641.8 916.35 L1651.25 915.29 L1660.7 914.06 L1670.15 912.74 L1679.61 911.41 L1689.06 909.96 L1698.51 908.43 L1707.96 906.56 L1717.41 903.86 L1726.87 900.93 L1736.32 898.37 L1745.77 896.29 L1755.22 894.62 L1764.67 893.56 L1774.13 893.1 L1783.58 892.69 L1793.03 892.45 L1802.48 892.32 L1811.93 892.66 L1821.39 893.55 L1830.84 894.66 L1840.29 895.86 L1849.74 897.05 L1859.19 898.26" fill="none" stroke="#f23645" stroke-width="4" stroke-linejoin="round" stroke-linecap="round"/>
</g>
<g clip-path="url(#cr)">
<line x1="-21" y1="995" x2="2289" y2="995" stroke="#6d707b" stroke-width="2" stroke-dasharray="10 12"/>
<line x1="-21" y1="1030" x2="2289" y2="1030" stroke="#6d707b" stroke-width="2" stroke-dasharray="10 12"/>
<line x1="-21" y1="1065" x2="2289" y2="1065" stroke="#6d707b" stroke-width="2" stroke-dasharray="10 12"/>
<path d="M-2.85 1026.5 L6.6 1022.12 L16.05 1016.87 L25.51 1018.62 L34.96 1028.77 L44.41 1030.52 L53.86 1031.22 L63.31 1044.44 L72.77 1047.67 L82.22 1034.37 L91.67 1050.82 L101.12 1045.92 L110.57 1043.12 L120.03 1035.78 L129.48 1034.02 L138.93 1037.52 L148.38 1027.55 L157.83 1016.87 L167.29 1016.87 L176.74 1025.63 L186.19 1025.63 L195.64 1023.7 L205.09 1039.45 L214.55 1035.78 L224 1044 L233.45 1070.95 L242.9 1069.49 L252.35 1053.75 L261.81 1046.4 L271.26 1052.55 L280.71 1057.2 L290.16 1061.7 L299.61 1063.46 L309.07 1056.11 L318.52 1053.02 L327.97 1042.59 L337.42 1047.62 L346.87 1051.34 L356.33 1048.08 L365.78 1036.68 L375.23 1029.4 L384.68 1025.29 L394.13 1026.44 L403.59 1029.12 L413.04 1034.32 L422.49 1043.69 L431.94 1036.44 L441.39 1036.89 L450.85 1034.46 L460.3 1052 L469.75 1058.35 L479.2 1044.15 L488.65 1052.26 L498.11 1042.86 L507.56 1044.76 L517.01 1037.52 L526.46 1025.02 L535.91 1034.97 L545.37 1034.94 L554.82 1039.85 L564.27 1045.23 L573.72 1045.57 L583.17 1047.08 L592.63 1050.7 L602.08 1044.73 L611.53 1052.53 L620.98 1059.24 L630.43 1062.03 L639.89 1061.63 L649.34 1049.97 L658.79 1032.53 L668.24 1034.72 L677.69 1032.59 L687.15 1034.78 L696.6 1036.6 L706.05 1034.34 L715.5 1038.96 L724.95 1049.76 L734.41 1036 L743.86 1031.48 L753.31 1040.44 L762.76 1045.5 L772.21 1045.56 L781.67 1044.12 L791.12 1040.44 L800.57 1036.28 L810.02 1043.08 L819.47 1043.78 L828.93 1046.4 L838.38 1044.13 L847.83 1048.92 L857.28 1056.52 L866.73 1051.14 L876.19 1057.49 L885.64 1062.11 L895.09 1046.26 L904.54 1042.92 L913.99 1044.11 L923.45 1046.07 L932.9 1049.56 L942.35 1050.65 L951.8 1054.18 L961.25 1051.62 L970.71 1045.83 L980.16 1047.07 L989.61 1049 L999.06 1043.22 L1008.51 1048.72 L1017.97 1040.49 L1027.42 1019.25 L1036.87 1017.89 L1046.32 1008.6 L1055.77 987.59 L1065.23 994.86 L1074.68 1014.28 L1084.13 1019.49 L1093.58 1022.8 L1103.03 1023.1 L1112.49 1025.54 L1121.94 1028.15 L1131.39 1015.37 L1140.84 1019.36 L1150.29 1027.42 L1159.75 1028.69 L1169.2 1029.23 L1178.65 1038.46 L1188.1 1039.19 L1197.55 1050.19 L1207.01 1040.9 L1216.46 1043.94 L1225.91 1044.4 L1235.36 1044.98 L1244.81 1054.01 L1254.27 1042.01 L1263.72 1040.42 L1273.17 1041.1 L1282.62 1053.38 L1292.07 1060.41 L1301.53 1067.44 L1310.98 1071.46 L1320.43 1065.73 L1329.88 1068.95 L1339.33 1073.46 L1348.79 1087.29 L1358.24 1054.7 L1367.69 1057.35 L1377.14 1056.34 L1386.59 1055.65 L1396.05 1058.2 L1405.5 1060.16 L1414.95 1060.56 L1424.4 1054.18 L1433.85 1041.2 L1443.31 1044.36 L1452.76 1042.68 L1462.21 1043.99 L1471.66 1049.22 L1481.11 1050.74 L1490.57 1046.81 L1500.02 1046.29 L1509.47 1050.77 L1518.92 1055.17 L1528.37 1055.25 L1537.83 1040.33 L1547.28 1044.45 L1556.73 1049.83 L1566.18 1046.04 L1575.63 1049.13 L1585.09 1041.93 L1594.54 1046.07 L1603.99 1033.49 L1613.44 1037.66 L1622.89 1043.35 L1632.35 1044.15 L1641.8 1046.37 L1651.25 1041.69 L1660.7 1036.95 L1670.15 1037.29 L1679.61 1037.66 L1689.06 1034.05 L1698.51 1032.39 L1707.96 1022.73 L1717.41 1006.99 L1726.87 1013 L1736.32 1024.34 L1745.77 1027.89 L1755.22 1028.09 L1764.67 1035.91 L1774.13 1040.43 L1783.58 1029.88 L1793.03 1033.24 L1802.48 1033.33 L1811.93 1044.09 L1821.39 1050.09 L1830.84 1047.93 L1840.29 1048.61 L1849.74 1048.61 L1859.19 1051.93" fill="none" stroke="#7e57c2" stroke-width="2" stroke-linejoin="round"/>
</g>
<g style="font-family:&quot;Liberation Sans&quot;,sans-serif" opacity="0.999">
<g clip-path="url(#am)">
<text x="2306.8" y="43.3" font-size="23" fill="#131722" textLength="110" lengthAdjust="spacingAndGlyphs">2.600000</text>
<text x="2306.8" y="144.3" font-size="23" fill="#131722" textLength="110" lengthAdjust="spacingAndGlyphs">2.400000</text>
<text x="2306.8" y="245.3" font-size="23" fill="#131722" textLength="110" lengthAdjust="spacingAndGlyphs">2.200000</text>
<text x="2306.8" y="346.3" font-size="23" fill="#131722" textLength="110" lengthAdjust="spacingAndGlyphs">2.000000</text>
<text x="2306.8" y="447.3" font-size="23" fill="#131722" textLength="110" lengthAdjust="spacingAndGlyphs">1.800000</text>
<text x="2306.8" y="548.3" font-size="23" fill="#131722" textLength="110" lengthAdjust="spacingAndGlyphs">1.600000</text>
<text x="2306.8" y="649.3" font-size="23" fill="#131722" textLength="110" lengthAdjust="spacingAndGlyphs">1.400000</text>
<text x="2306.8" y="750.3" font-size="23" fill="#131722" textLength="110" lengthAdjust="spacingAndGlyphs">1.200000</text>
<text x="2306.8" y="851.3" font-size="23" fill="#131722" textLength="110" lengthAdjust="spacingAndGlyphs">1.000000</text>
<text x="2306.8" y="952.3" font-size="23" fill="#131722" textLength="110" lengthAdjust="spacingAndGlyphs">0.800000</text>
</g>
<path d="M2289 382 H2425 a4 4 0 0 1 4 4 V412 a4 4 0 0 1 -4 4 H2289 Z" fill="#9c27b0"/>
<text x="2306.8" y="407.3" font-size="23" fill="#fff" textLength="110" lengthAdjust="spacingAndGlyphs">1.878517</text>
<path d="M2289 486 H2425 a4 4 0 0 1 4 4 V516 a4 4 0 0 1 -4 4 H2289 Z" fill="#2157f3"/>
<text x="2306.8" y="511.3" font-size="23" fill="#fff" textLength="110" lengthAdjust="spacingAndGlyphs">1.624758</text>
<path d="M2289 520 H2425 a4 4 0 0 1 4 4 V550 a4 4 0 0 1 -4 4 H2289 Z" fill="#000"/>
<text x="2306.8" y="545.3" font-size="23" fill="#fff" textLength="110" lengthAdjust="spacingAndGlyphs">1.606032</text>
<path d="M2289 597 H2425 a4 4 0 0 1 4 4 V627 a4 4 0 0 1 -4 4 H2289 Z" fill="#f23645"/>
<text x="2306.8" y="622.3" font-size="23" fill="#fff" textLength="110" lengthAdjust="spacingAndGlyphs">1.452655</text>
<path d="M2289 635 H2425 a4 4 0 0 1 4 4 V665 a4 4 0 0 1 -4 4 H2289 Z" fill="#000"/>
<text x="2306.8" y="660.3" font-size="23" fill="#fff" textLength="110" lengthAdjust="spacingAndGlyphs">1.325367</text>
<path d="M2289 668.7 H2425 a4 4 0 0 1 4 4 V698.7 a4 4 0 0 1 -4 4 H2289 Z" fill="#f23645"/>
<text x="2306.8" y="694" font-size="23" fill="#fff" textLength="110" lengthAdjust="spacingAndGlyphs">1.310500</text>
<g clip-path="url(#ad)">
<path d="M2289 878.2 H2437 a4 4 0 0 1 4 4 V908.2 a4 4 0 0 1 -4 4 H2289 Z" fill="#ff5252"/>
<text x="2307.3" y="903.5" font-size="23" fill="#fff" textLength="121" lengthAdjust="spacingAndGlyphs">-0.010995</text>
<path d="M2289 912.1 H2437 a4 4 0 0 1 4 4 V942.1 a4 4 0 0 1 -4 4 H2289 Z" fill="#f23645"/>
<text x="2307.3" y="937.4" font-size="23" fill="#fff" textLength="121" lengthAdjust="spacingAndGlyphs">-0.017591</text>
<path d="M2289 946 H2437 a4 4 0 0 1 4 4 V976 a4 4 0 0 1 -4 4 H2289 Z" fill="#2196f3"/>
<text x="2307.3" y="971.3" font-size="23" fill="#fff" textLength="121" lengthAdjust="spacingAndGlyphs">-0.028586</text>
</g>
<g clip-path="url(#ar)">
<text x="2306.8" y="986.3" font-size="23" fill="#131722" textLength="65" lengthAdjust="spacingAndGlyphs">80.00</text>
</g>
<path d="M2289 1035 H2379 a4 4 0 0 1 4 4 V1065 a4 4 0 0 1 -4 4 H2289 Z" fill="#7e57c2"/>
<text x="2306.8" y="1060.3" font-size="23" fill="#fff" textLength="65" lengthAdjust="spacingAndGlyphs">37.20</text>
<text x="148.48" y="1137" font-size="24" fill="#131722" text-anchor="middle" textLength="39.5" lengthAdjust="spacingAndGlyphs">Oct</text>
<text x="441.49" y="1137" font-size="24" fill="#131722" text-anchor="middle" textLength="43.5" lengthAdjust="spacingAndGlyphs">Nov</text>
<text x="725.05" y="1137" font-size="24" fill="#131722" text-anchor="middle" textLength="43" lengthAdjust="spacingAndGlyphs">Dec</text>
<text x="1018.07" y="1137" font-size="24" fill="#131722" text-anchor="middle" textLength="61.5" lengthAdjust="spacingAndGlyphs" font-weight="bold">2026</text>
<text x="1311.08" y="1137" font-size="24" fill="#131722" text-anchor="middle" textLength="40.5" lengthAdjust="spacingAndGlyphs">Feb</text>
<text x="1575.73" y="1137" font-size="24" fill="#131722" text-anchor="middle" textLength="42" lengthAdjust="spacingAndGlyphs">Mar</text>
<text x="1868.75" y="1137" font-size="24" fill="#131722" text-anchor="middle" textLength="38.5" lengthAdjust="spacingAndGlyphs">Apr</text>
<text x="2152.31" y="1137" font-size="24" fill="#131722" text-anchor="middle" textLength="45.5" lengthAdjust="spacingAndGlyphs">May</text>
<text x="17.2" y="40.7" font-size="23" fill="#131722" textLength="274.5" lengthAdjust="spacingAndGlyphs">XRP/USDT (Binance), 1D</text>
<text x="307.4" y="40.7" font-size="23" fill="#131722" textLength="16.1" lengthAdjust="spacingAndGlyphs">O</text>
<text x="326.2" y="40.7" font-size="23" fill="#f23645" textLength="103.8" lengthAdjust="spacingAndGlyphs">1.324200</text>
<text x="447.3" y="40.7" font-size="23" fill="#131722" textLength="13.4" lengthAdjust="spacingAndGlyphs">H</text>
<text x="463.4" y="40.7" font-size="23" fill="#f23645" textLength="104.4" lengthAdjust="spacingAndGlyphs">1.348200</text>
<text x="585.2" y="40.7" font-size="23" fill="#131722" textLength="10.1" lengthAdjust="spacingAndGlyphs">L</text>
<text x="598" y="40.7" font-size="23" fill="#f23645" textLength="105.4" lengthAdjust="spacingAndGlyphs">1.303800</text>
<text x="719.4" y="40.7" font-size="23" fill="#131722" textLength="14.8" lengthAdjust="spacingAndGlyphs">C</text>
<text x="736.8" y="40.7" font-size="23" fill="#f23645" textLength="100.4" lengthAdjust="spacingAndGlyphs">1.310500</text>
<text x="853" y="40.7" font-size="23" fill="#f23645" textLength="114.6" lengthAdjust="spacingAndGlyphs">-0.013700</text>
<text x="978.3" y="40.7" font-size="23" fill="#f23645" textLength="97.7" lengthAdjust="spacingAndGlyphs">(−1.03%)</text>
<text x="16.6" y="75" font-size="23" fill="#131722" textLength="206.5" lengthAdjust="spacingAndGlyphs">EMA (50, close, 0)</text>
<text x="238.9" y="75" font-size="23" fill="#f23645" textLength="105.1" lengthAdjust="spacingAndGlyphs">1.452655</text>
<text x="16.6" y="108.8" font-size="23" fill="#131722" textLength="217.9" lengthAdjust="spacingAndGlyphs">EMA (100, close, 0)</text>
<text x="251.4" y="108.8" font-size="23" fill="#2157f3" textLength="102.9" lengthAdjust="spacingAndGlyphs">1.624758</text>
<text x="16.6" y="142.9" font-size="23" fill="#131722" textLength="221.3" lengthAdjust="spacingAndGlyphs">EMA (200, close, 0)</text>
<text x="254.9" y="142.9" font-size="23" fill="#9c27b0" textLength="97.1" lengthAdjust="spacingAndGlyphs">1.878517</text>
<text x="17.3" y="889.6" font-size="23" fill="#131722" textLength="264.6" lengthAdjust="spacingAndGlyphs">MACD (12, 26, close, 9)</text>
<text x="298.9" y="889.6" font-size="23" fill="#ff5252" textLength="116.7" lengthAdjust="spacingAndGlyphs">-0.010995</text>
<text x="431" y="889.6" font-size="23" fill="#2196f3" textLength="118.8" lengthAdjust="spacingAndGlyphs">-0.028586</text>
<text x="566.5" y="889.6" font-size="23" fill="#f23645" textLength="110.2" lengthAdjust="spacingAndGlyphs">-0.017591</text>
<text x="16.4" y="1014.6" font-size="23" fill="#131722" textLength="87.3" lengthAdjust="spacingAndGlyphs">RSI (14)</text>
<text x="121" y="1014.6" font-size="23" fill="#7e57c2" textLength="59" lengthAdjust="spacingAndGlyphs">37.20</text>
</g>
<rect x="0" y="0" width="2450" height="2" fill="#eff1f5"/>
<rect x="0" y="1154" width="2450" height="2" fill="#eff1f5"/>
<rect x="0" y="0" width="2" height="1156" fill="#eff1f5"/>
<rect x="2448" y="0" width="2" height="1156" fill="#eff1f5"/>
</svg></body></html>
